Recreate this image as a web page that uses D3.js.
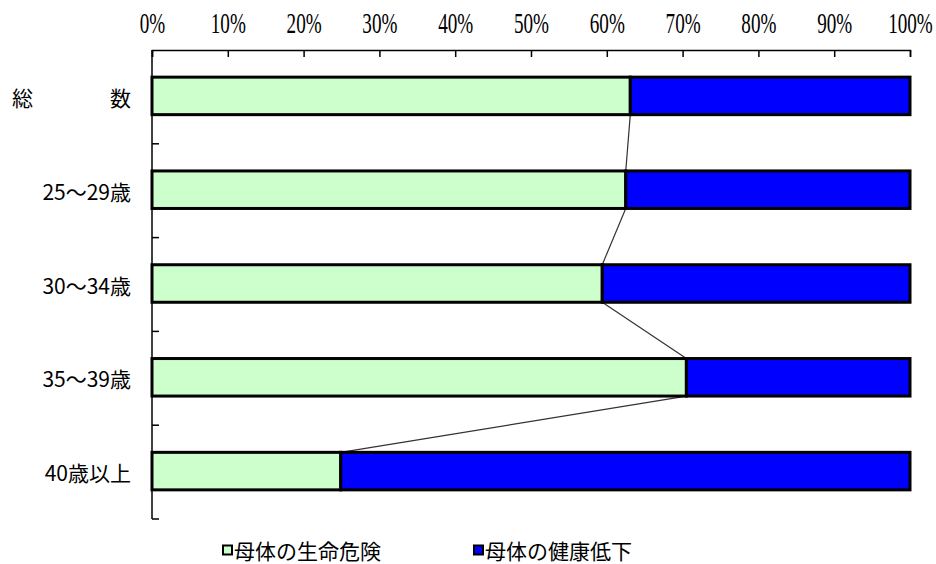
<!DOCTYPE html>
<html>
<head>
<meta charset="utf-8">
<script src="https://cdn.jsdelivr.net/npm/d3@7/dist/d3.min.js"></script>
<style>
  html, body { margin: 0; padding: 0; background: #fff; }
  svg { display: block; }
</style>
</head>
<body>
<svg id="chart" width="936" height="564"></svg>
<script>
// Age groups (top to bottom)
const categories = ["総　　　数", "25〜29歳", "30〜34歳", "35〜39歳", "40歳以上"];
// Share of each reason, percent
const lifeRisk      = [63.1, 62.5, 59.4, 70.5, 24.9];
const healthDecline = [36.9, 37.5, 40.6, 29.5, 75.1];
const seriesNames   = ["母体の生命危険", "母体の健康低下"];
const seriesColors  = ["#CCFFCC", "#0000FF"];
const xTickValues   = [0, 10, 20, 30, 40, 50, 60, 70, 80, 90, 100];

const svg = d3.select("#chart");
const plotLeft = 152, plotRight = 910, plotTop = 50, plotBottom = 519;

const x = d3.scaleLinear().domain([0, 100]).range([plotLeft, plotRight]);
const y = d3.scaleBand().domain(categories).range([plotTop, plotBottom]).paddingInner(0).paddingOuter(0);
const barH = y.bandwidth() * 0.4;
const barTop = c => y(c) + (y.bandwidth() - barH) / 2 - 1;

// Stack the two series
const rows = categories.map((c, i) => ({ cat: c, vals: [lifeRisk[i], healthDecline[i]] }));
const segs = [];
rows.forEach(r => {
  let acc = 0;
  r.vals.forEach((v, k) => {
    segs.push({ cat: r.cat, x0: acc, x1: acc + v, k });
    acc += v;
  });
});

// Connector lines between series boundaries of adjacent bars
const links = d3.pairs(rows).map(([a, b]) => ({
  x1: x(a.vals[0]), y1: barTop(a.cat) + barH,
  x2: x(b.vals[0]), y2: barTop(b.cat)
}));
svg.append("g").selectAll("line").data(links).join("line")
  .attr("x1", d => d.x1).attr("y1", d => d.y1)
  .attr("x2", d => d.x2).attr("y2", d => d.y2)
  .attr("stroke", "#333").attr("stroke-width", 1.2);

// Bars
svg.append("g").selectAll("rect").data(segs).join("rect")
  .attr("x", d => x(d.x0))
  .attr("y", d => barTop(d.cat))
  .attr("width", d => x(d.x1) - x(d.x0))
  .attr("height", barH)
  .attr("fill", d => seriesColors[d.k])
  .attr("stroke", "#000")
  .attr("stroke-width", 3);

// Top percent axis, ticks pointing into the plot
const xAxis = d3.axisTop(x).tickValues(xTickValues).tickFormat(d => d + "%")
  .tickSizeInner(-7).tickSizeOuter(-7).tickPadding(17);
const gx = svg.append("g").attr("transform", `translate(0,${plotTop})`).call(xAxis);
gx.select(".domain").attr("stroke", "#000").attr("stroke-width", 1.5);
gx.selectAll(".tick line").attr("stroke", "#000").attr("stroke-width", 1.5);
gx.selectAll(".tick text")
  .attr("font-family", "'Liberation Serif', serif")
  .attr("font-size", 29)
  .attr("fill", "#000")
  .attr("transform", "scale(0.66,1)");

// Left category axis with ticks at band boundaries
const gy = svg.append("g");
gy.append("line")
  .attr("x1", x(0)).attr("x2", x(0))
  .attr("y1", plotTop).attr("y2", plotBottom)
  .attr("stroke", "#000").attr("stroke-width", 1.5);
gy.selectAll("line.tk").data(categories).join("line").attr("class", "tk")
  .attr("x1", x(0)).attr("x2", x(0) + 7)
  .attr("y1", d => y(d) + y.bandwidth()).attr("y2", d => y(d) + y.bandwidth())
  .attr("stroke", "#000").attr("stroke-width", 1.5);
const catLabels = gy.selectAll("text").data(categories).join("text")
  .attr("x", 131)
  .attr("y", d => barTop(d) + barH / 2 + 1)
  .attr("text-anchor", "end")
  .attr("dominant-baseline", "central")
  .attr("font-family", "'Noto Sans CJK JP', sans-serif")
  .attr("font-size", 21)
  .attr("fill", "#000")
  .text(d => d);
// The spaced-out total label spans the full label column
catLabels.filter((d, i) => i === 0)
  .attr("textLength", 119)
  .attr("lengthAdjust", "spacing");

// Legend
const legendX = [222, 473];
const lg = svg.append("g").selectAll("g").data(seriesNames).join("g")
  .attr("transform", (d, i) => `translate(${legendX[i]},550)`);
lg.append("rect")
  .attr("x", 1).attr("y", -4.5).attr("width", 9).attr("height", 9)
  .attr("fill", (d, i) => seriesColors[i])
  .attr("stroke", "#000").attr("stroke-width", 2);
lg.append("text")
  .attr("x", 12).attr("y", 0)
  .attr("dominant-baseline", "central")
  .attr("font-family", "'Noto Sans CJK JP', sans-serif")
  .attr("font-size", 21)
  .attr("fill", "#000")
  .text(d => d);
</script>
</body>
</html>
